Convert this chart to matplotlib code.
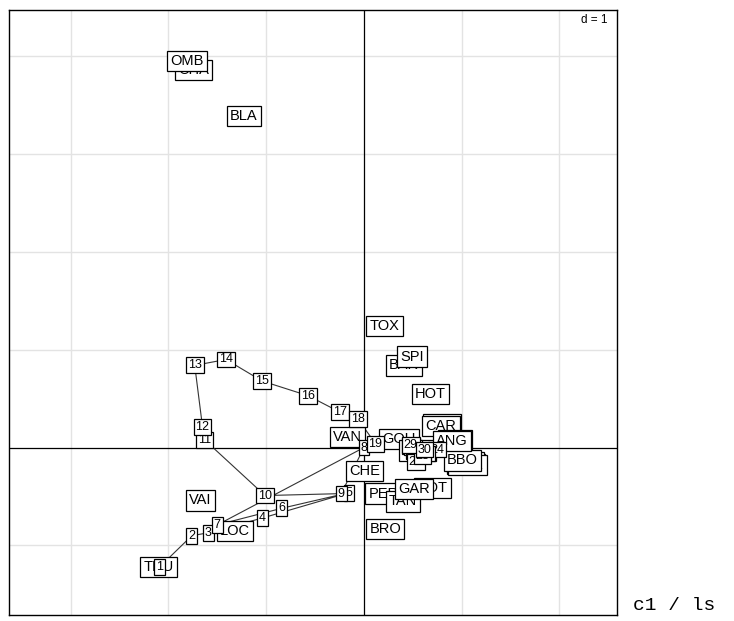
import numpy as np
import matplotlib.pyplot as plt

# coordonnées des relevés (sites 1..30)
site_x = [-2.09, -1.76, -1.59, -1.04, -0.15, -0.84, -1.50, 0.00, -0.23, -1.01,
          -1.63, -1.65, -1.73, -1.41, -1.04, -0.57, -0.24, -0.06, 0.12, 0.48,
          0.50, 0.52, 0.54, 0.75, 0.58, 0.53, 0.64, 0.60, 0.48, 0.62]
site_y = [-1.22, -0.90, -0.87, -0.72, -0.46, -0.62, -0.79, 0.00, -0.47, -0.49,
          0.08, 0.21, 0.84, 0.90, 0.68, 0.53, 0.36, 0.29, 0.04, 0.02,
          0.00, -0.04, -0.07, -0.02, -0.04, -0.15, -0.06, -0.09, 0.03, -0.02]
site_lab = [str(i) for i in range(1, 31)]

# coordonnées des espèces
esp_lab = ["CHA", "TRU", "VAI", "LOC", "OMB", "BLA", "HOT", "TOX", "VAN", "CHE",
           "BAR", "SPI", "GOU", "BRO", "PER", "BOU", "PSO", "ROT", "CAR", "TAN",
           "BCO", "PCH", "GRE", "GAR", "BBO", "ABL", "ANG"]
esp_x = [-1.74, -2.10, -1.67, -1.32, -1.81, -1.23, 0.68, 0.21, -0.17, 0.01,
         0.41, 0.49, 0.36, 0.22, 0.20, 0.80, 0.55, 0.70, 0.79, 0.40,
         1.05, 1.04, 1.06, 0.51, 1.01, 0.93, 0.90]
esp_y = [3.86, -1.22, -0.54, -0.85, 3.95, 3.39, 0.55, 1.24, 0.11, -0.24,
         0.84, 0.93, 0.09, -0.83, -0.47, 0.24, -0.03, -0.41, 0.22, -0.55,
         -0.17, -0.15, -0.18, -0.42, -0.13, 0.08, 0.07]

xlim = (-3.63, 2.59)
ylim = (-1.71, 4.47)

fig = plt.figure(figsize=(7.34, 6.21), dpi=100)
ax = fig.add_axes([9 / 734, 1 - 615 / 621, 608 / 734, 605 / 621])
ax.set_xlim(*xlim)
ax.set_ylim(*ylim)
ax.set_xticks([])
ax.set_yticks([])
for s in ax.spines.values():
    s.set_color("black")
    s.set_linewidth(1.0)

# grille d = 1
for g in np.arange(-3, 3):
    if g != 0:
        ax.axvline(g, color="#e3e3e3", lw=1, zorder=0)
for g in np.arange(-1, 5):
    if g != 0:
        ax.axhline(g, color="#e3e3e3", lw=1, zorder=0)
ax.axvline(0, color="black", lw=0.9, zorder=1)
ax.axhline(0, color="black", lw=0.9, zorder=1)

ax.text(0.985, 0.993, "d = 1", transform=ax.transAxes, ha="right", va="top",
        fontsize=8.5, family="Liberation Sans",
        bbox=dict(boxstyle="square,pad=0.15", fc="white", ec="none"), zorder=2)

# trajectoire des sites
ax.plot(site_x, site_y, color="#333333", lw=0.8, zorder=2)

z = 3
for lab, x, y in zip(esp_lab, esp_x, esp_y):
    ax.text(x, y, lab, ha="center", va="center", fontsize=10.5,
            family="Liberation Sans",
            bbox=dict(boxstyle="square,pad=0.22", fc="white", ec="black", lw=0.9),
            zorder=z)
    z += 0.01

for lab, x, y in zip(site_lab, site_x, site_y):
    ax.text(x, y, lab, ha="center", va="center", fontsize=9,
            family="Liberation Sans",
            bbox=dict(boxstyle="square,pad=0.15", fc="white", ec="black", lw=0.9),
            zorder=z)
    z += 0.01

fig.text(633 / 734, 1 - 610 / 621, "c1 / ls", ha="left", va="baseline",
         fontsize=14, family="Liberation Mono")

fig.savefig("out.png", dpi=100)
